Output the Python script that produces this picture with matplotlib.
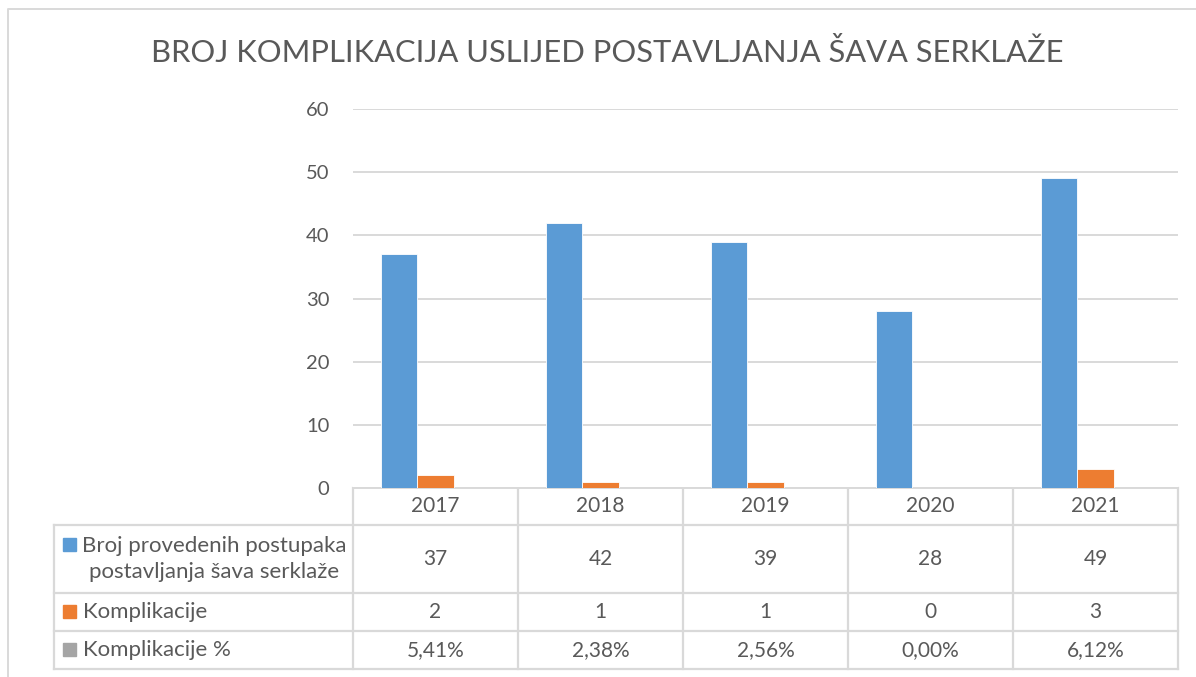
import numpy as np
import matplotlib.pyplot as plt
from matplotlib.patches import Rectangle

# data
years = ['2017', '2018', '2019', '2020', '2021']
postupci = [37, 42, 39, 28, 49]
komplikacije = [2, 1, 1, 0, 3]
komplikacije_pct = [5.41, 2.38, 2.56, 0.00, 6.12]

series_names = ['Broj provedenih postupaka\npostavljanja šava serklaže',
                'Komplikacije', 'Komplikacije %']
colors = ['#5B9BD5', '#ED7D31', '#A5A5A5']
title = 'BROJ KOMPLIKACIJA USLIJED POSTAVLJANJA ŠAVA SERKLAŽE'

W, H = 1196, 677
plt.rcParams['font.family'] = ['Lato', 'DejaVu Sans']
text_c = '#595959'
line_c = '#D9D9D9'

fig = plt.figure(figsize=(W / 100, H / 100), dpi=100)

# plot area in pixels
L, R, T, B = 353, 1178, 109, 488
ax = fig.add_axes([L / W, 1 - B / H, (R - L) / W, (B - T) / H])

n = len(years)
x = np.arange(n)
bw = 1 / 4.5  # three bars, gap width 150%
series = [postupci, komplikacije, [p / 100 for p in komplikacije_pct]]
for i, (vals, c) in enumerate(zip(series, colors)):
    ax.bar(x + (i - 1) * bw, vals, bw, color=c, edgecolor='white',
           linewidth=0.6, zorder=3)

ax.set_xlim(-0.5, n - 0.5)
ax.set_ylim(0, 60)
ax.set_yticks(range(0, 61, 10))
ax.set_xticks([])
ax.tick_params(axis='y', length=0, pad=17, labelsize=14.5, labelcolor=text_c)
ax.grid(axis='y', color=line_c, linewidth=1.4, zorder=0)
for s in ['top', 'right', 'left']:
    ax.spines[s].set_visible(False)
ax.spines['bottom'].set_color(line_c)
ax.spines['bottom'].set_linewidth(1.4)

# overlay in pixel coordinates for the data table, title and frame
ov = fig.add_axes([0, 0, 1, 1], zorder=-1)
ov.set_xlim(0, W)
ov.set_ylim(H, 0)
ov.axis('off')

TL = 54
rows = [488, 525, 592.5, 631, 668.5]
cols = np.linspace(L, R, n + 1)
lw = 1.6
for y in rows[1:]:
    ov.plot([TL, R], [y, y], color=line_c, lw=lw)
ov.plot([TL, TL], [rows[1], rows[-1]], color=line_c, lw=lw)
for cx in cols:
    ov.plot([cx, cx], [rows[0], rows[-1]], color=line_c, lw=lw)

fs = 15
centers = (cols[:-1] + cols[1:]) / 2
for cx, yr in zip(centers, years):
    ov.text(cx, (rows[0] + rows[1]) / 2, yr, ha='center', va='center',
            fontsize=fs, color=text_c)

table_vals = [
    [str(v) for v in postupci],
    [str(v) for v in komplikacije],
    [f'{v:.2f}%'.replace('.', ',') for v in komplikacije_pct],
]
for r in range(3):
    ymid = (rows[r + 1] + rows[r + 2]) / 2
    for cx, s in zip(centers, table_vals[r]):
        ov.text(cx, ymid, s, ha='center', va='center', fontsize=fs, color=text_c)

# row headers with legend keys
key = 13
fl = 16
ymid = (rows[1] + rows[2]) / 2
ov.text(214, ymid, series_names[0], ha='center', va='center',
        fontsize=fl, color=text_c, linespacing=1.4, multialignment='center')
ov.add_patch(Rectangle((63, 544 - key / 2), key, key, color=colors[0]))
for r in (1, 2):
    ym = (rows[r + 1] + rows[r + 2]) / 2
    ov.add_patch(Rectangle((63, ym - key / 2), key, key, color=colors[r]))
    ov.text(83, ym, series_names[r], ha='left', va='center',
            fontsize=fl, color=text_c)

ov.text(607, 52, title, ha='center', va='center', fontsize=22.2, color=text_c)

# chart frame
ov.plot([8, 8, W], [H, 9, 9], color=line_c, lw=1.4)

fig.savefig('out.png', dpi=100)
